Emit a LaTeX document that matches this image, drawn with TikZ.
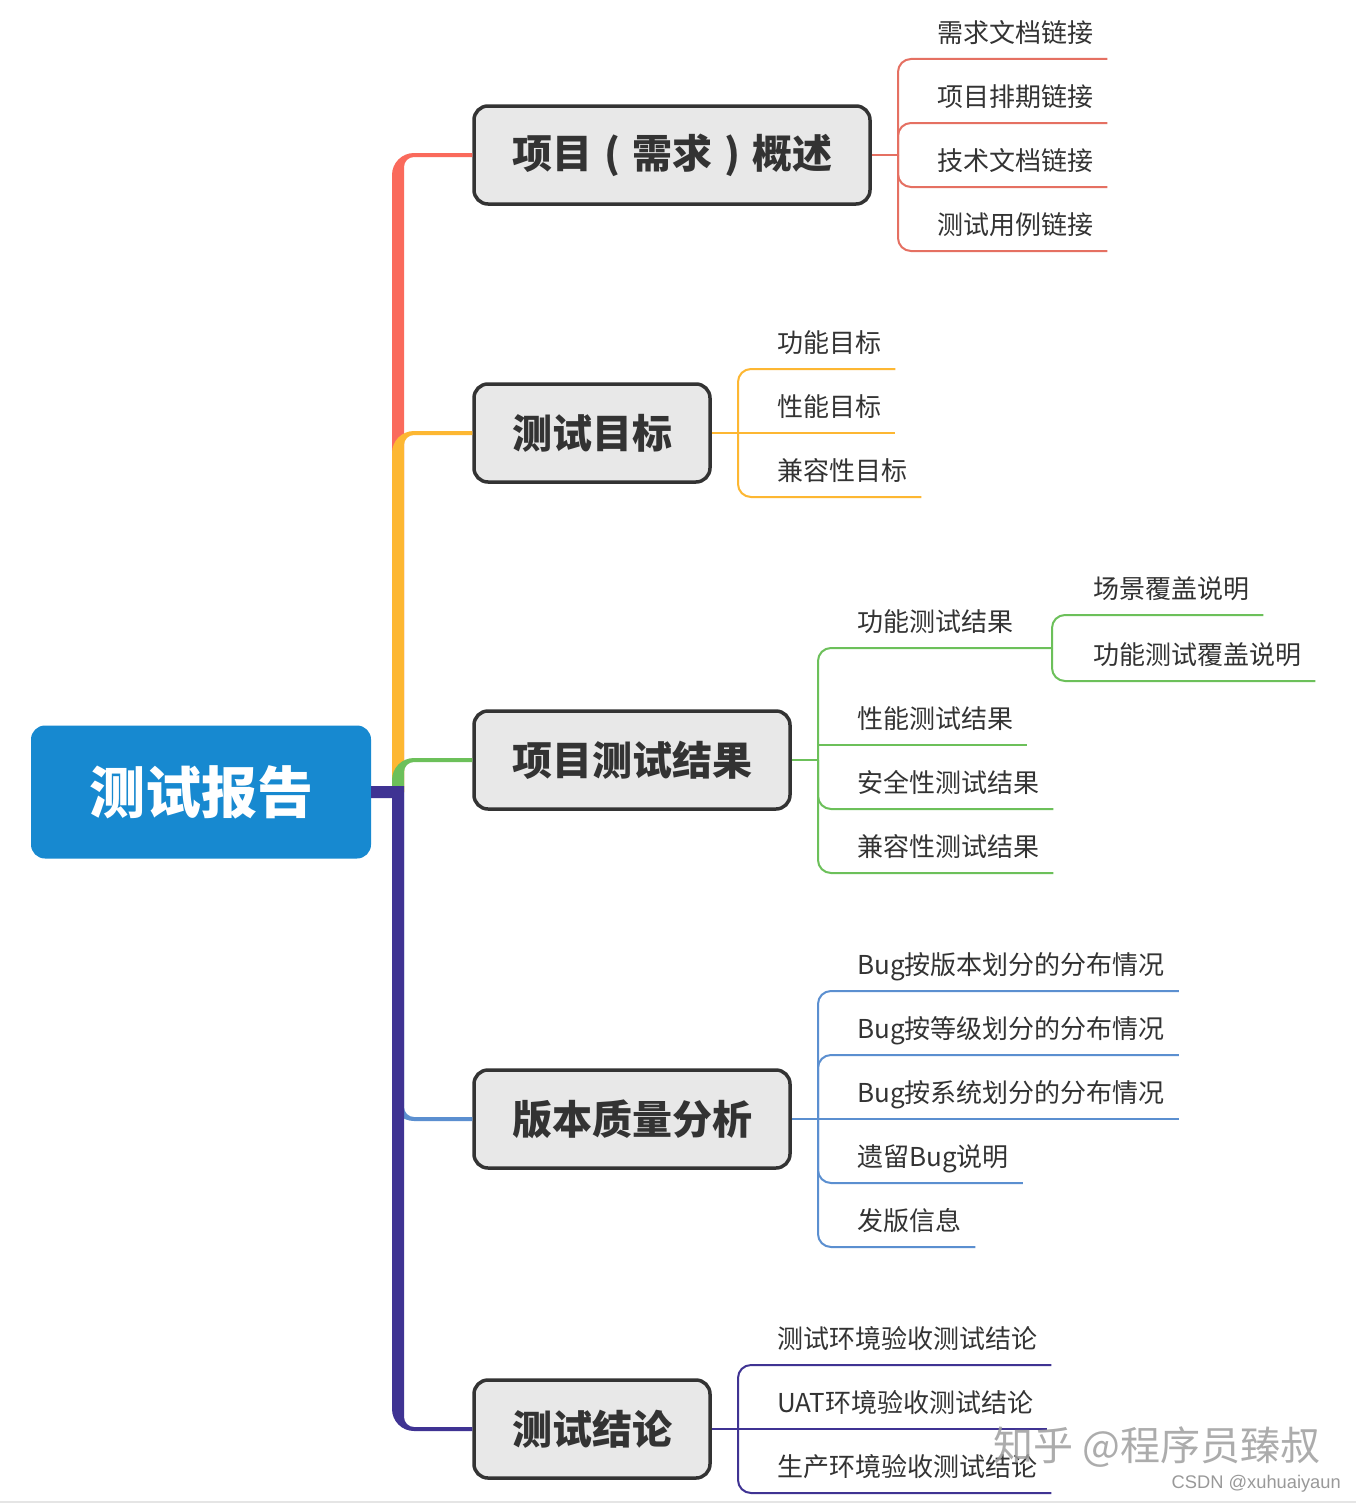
\documentclass[tikz,border=0pt]{standalone}
\usepackage{fontspec}
\setmainfont{Noto Sans CJK SC}
\newfontfamily\wmfont{Liberation Sans}
\definecolor{cred}{RGB}{250,106,92}
\definecolor{credl}{RGB}{229,112,98}
\definecolor{corange}{RGB}{253,183,50}
\definecolor{cgreen}{RGB}{108,192,90}
\definecolor{cblue}{RGB}{91,143,208}
\definecolor{cpurple}{RGB}{63,51,147}
\definecolor{croot}{RGB}{23,137,208}
\definecolor{cbox}{RGB}{232,232,232}
\definecolor{cborder}{RGB}{51,51,51}
\definecolor{ctext}{RGB}{51,51,51}
\newcommand\UpLimb[3]{%
  \fill[#1] (392,792) -- (392,#2+20) .. controls (392,#2+7.9) and (401.9,#2-2) .. (414,#2-2)
    -- ([yshift=2pt]#3.west) -- ([yshift=-2pt]#3.west) -- (414,#2+2)
    .. controls (408.5,#2+2) and (404,#2+6.5) .. (404,#2+12) -- (404,792) -- cycle;}
\newcommand\CParen[1]{\makebox[1em][c]{#1}}
\begin{document}
\begin{tikzpicture}[x=1pt,y=-1pt,
  rootbox/.style={fill=croot, rounded corners=14pt, minimum width=340pt, minimum height=133pt,
    text=white, font=\bfseries\fontsize{56}{56}\selectfont, inner sep=0pt},
  branchbox/.style={fill=cbox, draw=cborder, line width=3.5pt, rounded corners=14pt,
    minimum height=98pt, inner xsep=38pt, inner ysep=0pt, text=ctext,
    font=\bfseries\fontsize{40}{40}\selectfont},
  leaf/.style={anchor=south west, inner xsep=14pt, inner ysep=11pt, text height=20pt,
    text depth=5pt, font=\fontsize{26}{26}\selectfont, text=ctext},
  conn/.style={line width=2pt},
  elbow/.style={line width=2pt, rounded corners=13pt}]
\useasboundingbox (0,0) rectangle (1356,1504);
\fill[white] (0,0) rectangle (1356,1504);
\draw[line width=1.5pt, black!10] (0,1502) -- (1356,1502);

% root and branches
\node[rootbox] (root) at (201,792) {测试报告};
\node[branchbox] (b1) at (672,155) {项目\CParen{(}需求\CParen{)}概述};
\node[branchbox] (b2) at (592,433) {测试目标};
\node[branchbox] (b3) at (632,760) {项目测试结果};
\node[branchbox] (b4) at (632,1119) {版本质量分析};
\node[branchbox] (b5) at (592,1429) {测试结论};

% trunk limbs
\UpLimb{cred}{155}{b1}
\UpLimb{corange}{433}{b2}
\UpLimb{cgreen}{760}{b3}
\fill[cblue] (392,792) -- (392,1119-20) .. controls (392,1119-7.9) and (401.9,1119+2) .. (414,1119+2)
  -- ([yshift=-2pt]b4.west) -- ([yshift=2pt]b4.west) -- (414,1119-2)
  .. controls (408.5,1119-2) and (404,1119-6.5) .. (404,1119-12) -- (404,792) -- cycle;
\fill[cpurple] ([yshift=6pt]root.east) -- (404,786) -- (404,1429-12)
  .. controls (404,1429-6.5) and (408.5,1429-2) .. (414,1429-2)
  -- ([yshift=2pt]b5.west) -- ([yshift=-2pt]b5.west) -- (414,1429+2)
  .. controls (401.9,1429+2) and (392,1429-7.9) .. (392,1429-20)
  -- (392,798) -- ([yshift=-6pt]root.east) -- cycle;

% junctions
\coordinate (jr) at (898,155);
\coordinate (jo) at (738,433);
\coordinate (jg) at (818,760);
\coordinate (jf) at (1052,648);
\coordinate (jb) at (818,1119);
\coordinate (jp) at (738,1429);

% leaves: red
\node[leaf] (r1) at (923,59) {需求文档链接};
\node[leaf] (r2) at (923,123) {项目排期链接};
\node[leaf] (r3) at (923,187) {技术文档链接};
\node[leaf] (r4) at (923,251) {测试用例链接};
% orange
\node[leaf] (o1) at (763,369) {功能目标};
\node[leaf] (o2) at (763,433) {性能目标};
\node[leaf] (o3) at (763,497) {兼容性目标};
% green
\node[leaf] (g1) at (843,648) {功能测试结果};
\node[leaf] (g2) at (843,745) {性能测试结果};
\node[leaf] (g3) at (843,809) {安全性测试结果};
\node[leaf] (g4) at (843,873) {兼容性测试结果};
\node[leaf] (s1) at (1079,615) {场景覆盖说明};
\node[leaf] (s2) at (1079,681) {功能测试覆盖说明};
% blue
\node[leaf] (u1) at (843,991) {Bug按版本划分的分布情况};
\node[leaf] (u2) at (843,1055) {Bug按等级划分的分布情况};
\node[leaf] (u3) at (843,1119) {Bug按系统划分的分布情况};
\node[leaf] (u4) at (843,1183) {遗留Bug说明};
\node[leaf] (u5) at (843,1247) {发版信息};
% purple
\node[leaf] (p1) at (763,1365) {测试环境验收测试结论};
\node[leaf] (p2) at (763,1429) {UAT环境验收测试结论};
\node[leaf] (p3) at (763,1493) {生产环境验收测试结论};

% connectors
\draw[conn, credl] (b1.east) -- (jr);
\foreach \n in {r1,r2,r3,r4} \draw[elbow, credl] (jr) |- (\n.south east);
\draw[conn, corange] (b2.east) -- (jo);
\draw[elbow, corange] (jo) |- (o1.south east);
\draw[conn, corange] (jo) -- (o2.south east);
\draw[elbow, corange] (jo) |- (o3.south east);
\draw[conn, cgreen] (b3.east) -- (jg);
\draw[elbow, cgreen] (jg) |- (g1.south east) -- (jf);
\draw[conn, cgreen] (jg) |- (g2.south east);
\draw[elbow, cgreen] (jg) |- (g3.south east);
\draw[elbow, cgreen] (jg) |- (g4.south east);
\draw[elbow, cgreen] (jf) |- (s1.south east);
\draw[elbow, cgreen] (jf) |- (s2.south east);
\draw[conn, cblue] (b4.east) -- (jb);
\draw[elbow, cblue] (jb) |- (u1.south east);
\draw[elbow, cblue] (jb) |- (u2.south east);
\draw[conn, cblue] (jb) -- (u3.south east);
\draw[elbow, cblue] (jb) |- (u4.south east);
\draw[elbow, cblue] (jb) |- (u5.south east);
\draw[conn, cpurple] (b5.east) -- (jp);
\draw[elbow, cpurple] (jp) |- (p1.south east);
\draw[conn, cpurple] (jp) -- (p2.south east);
\draw[elbow, cpurple] (jp) |- (p3.south east);

% watermark
\node[text=black!38, opacity=0.85, font=\fontsize{40}{40}\selectfont, inner sep=0pt] (wm1) at (1157,1447) {知乎 @程序员臻叔};
\node[text=black!40, font=\wmfont\fontsize{18.3}{18.3}\selectfont, inner sep=0pt, anchor=east] (wm2) at (1341,1484) {CSDN @xuhuaiyaun};
\end{tikzpicture}
\end{document}
